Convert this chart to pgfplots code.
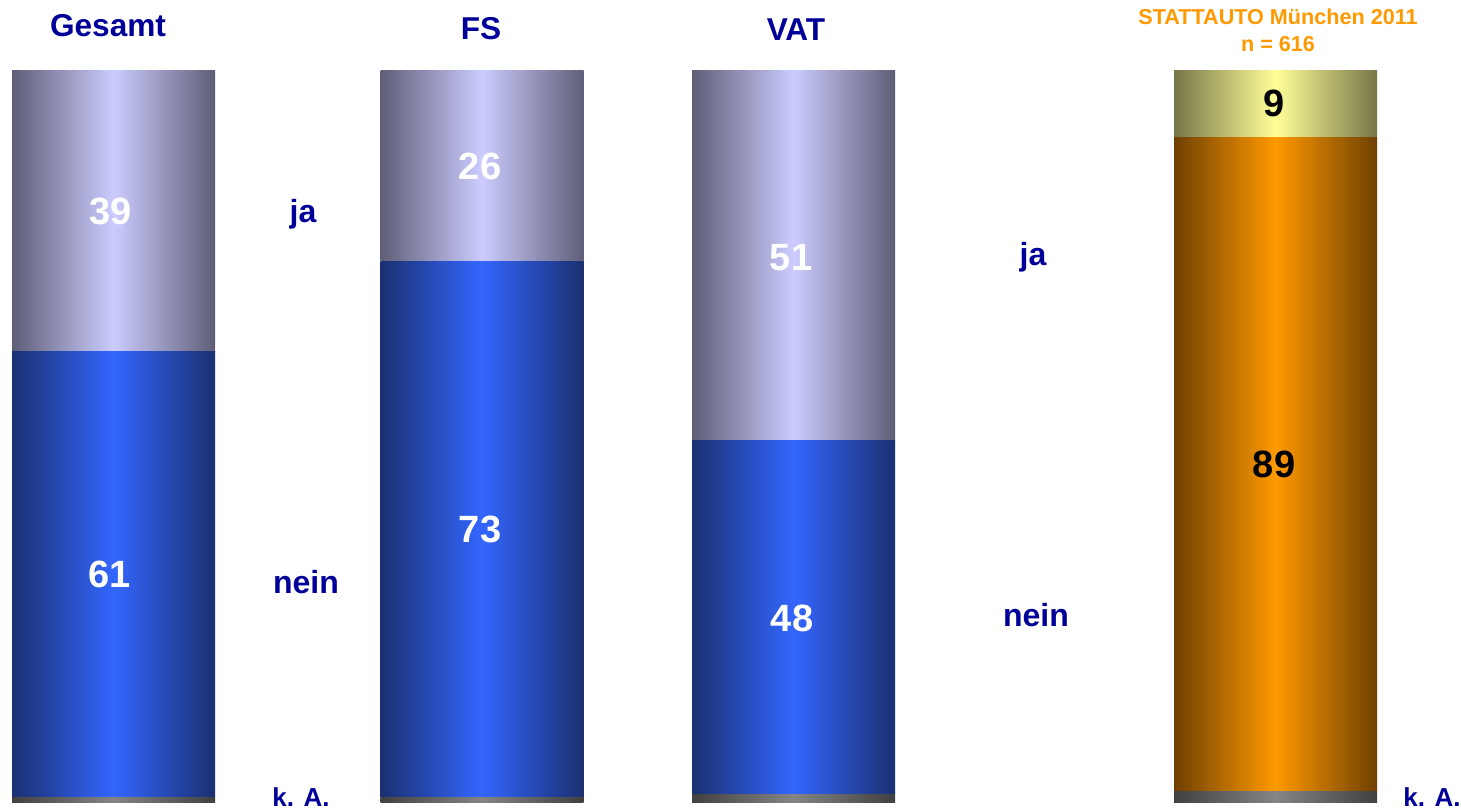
\documentclass[border=0pt]{standalone}
\usepackage{pgfplots}
\pgfplotsset{compat=1.18}
\usepackage{fontspec}
\setmainfont{Liberation Sans}
\definecolor{navy}{HTML}{000099}
\definecolor{orangeT}{HTML}{FF9900}
\definecolor{jaEdge}{HTML}{5E5E78}
\definecolor{jaMid}{HTML}{CCCCFF}
\definecolor{neinEdge}{HTML}{1A3070}
\definecolor{neinMid}{HTML}{3366FF}
\definecolor{kaEdge}{HTML}{404040}
\definecolor{kaMid}{HTML}{858585}
\definecolor{yEdge}{HTML}{76764A}
\definecolor{yMid}{HTML}{FFFF99}
\definecolor{oEdge}{HTML}{6E4000}
\definecolor{oMid}{HTML}{FF9900}
\pgfplotsset{
  panel/.style={scale only axis, width=730.5pt, height=405pt,
    xmin=0, xmax=1461, ymin=-1.094, ymax=109.71,
    axis lines=none, ticks=none, clip=false,
    ybar stacked, bar width=203},
  cyl/.style 2 args={draw=none, left color=#1, right color=#1, middle color=#2},
}
\newcommand{\val}[1]{\fontsize{19}{22}\selectfont\bfseries #1}
\newcommand{\cat}[1]{\fontsize{16}{18}\selectfont\bfseries #1}
\newcommand{\ttl}[1]{\fontsize{15.8}{18}\selectfont\bfseries #1}
\begin{document}
\begin{tikzpicture}
% Gesamt
\begin{axis}[panel]
\addplot[cyl={kaEdge}{kaMid}] coordinates {(113.5,0.6)};
\addplot[cyl={neinEdge}{neinMid}] coordinates {(113.5,61.0)};
\addplot[cyl={jaEdge}{jaMid}] coordinates {(113.5,38.4)};
\end{axis}
% FS
\begin{axis}[panel]
\addplot[cyl={kaEdge}{kaMid}] coordinates {(482,0.6)};
\addplot[cyl={neinEdge}{neinMid}] coordinates {(482,73.4)};
\addplot[cyl={jaEdge}{jaMid}] coordinates {(482,26.1)};
\end{axis}
% VAT
\begin{axis}[panel]
\addplot[cyl={kaEdge}{kaMid}] coordinates {(793.5,1.0)};
\addplot[cyl={neinEdge}{neinMid}] coordinates {(793.5,48.4)};
\addplot[cyl={jaEdge}{jaMid}] coordinates {(793.5,50.7)};
\end{axis}
% STATTAUTO
\begin{axis}[panel]
\addplot[cyl={kaEdge}{kaMid}] coordinates {(1275.5,1.5)};
\addplot[cyl={oEdge}{oMid}] coordinates {(1275.5,89.4)};
\addplot[cyl={yEdge}{yMid}] coordinates {(1275.5,9.2)};
\end{axis}
% texts on top
\begin{axis}[panel]
\node[text=white] at (axis cs:111,80.8) {\val{39}};
\node[text=white] at (axis cs:110,31.1) {\val{61}};
\node[text=white] at (axis cs:480,87.0) {\val{26}};
\node[text=white] at (axis cs:480,37.3) {\val{73}};
\node[text=white] at (axis cs:791,74.5) {\val{51}};
\node[text=white] at (axis cs:792,25.1) {\val{48}};
\node[text=black] at (axis cs:1274,95.5) {\val{9}};
\node[text=black] at (axis cs:1274,46.2) {\val{89}};
\node[text=navy] at (axis cs:108,106.2) {\ttl{Gesamt}};
\node[text=navy] at (axis cs:481,105.8) {\ttl{FS}};
\node[text=navy] at (axis cs:796,105.6) {\ttl{VAT}};
\node[text=orangeT, align=center, font=\fontsize{10.8}{13.5}\selectfont\bfseries] at (axis cs:1278,105.6) {STATTAUTO München 2011\\ n = 616};
\node[text=navy] at (axis cs:303,80.4) {\cat{ja}};
\node[text=navy] at (axis cs:306,30.1) {\cat{nein}};
\node[text=navy] at (axis cs:1033,74.5) {\cat{ja}};
\node[text=navy] at (axis cs:1036,25.6) {\cat{nein}};
\node[text=navy, anchor=base, inner sep=0pt] at (axis cs:301,-0.55) {\fontsize{13}{15}\selectfont\bfseries k. A.};
\node[text=navy, anchor=base, inner sep=0pt] at (axis cs:1432,-0.55) {\fontsize{13}{15}\selectfont\bfseries k. A.};
\end{axis}
\pgfresetboundingbox
\path (0,0) rectangle (730.5pt,405pt);
\end{tikzpicture}
\end{document}
